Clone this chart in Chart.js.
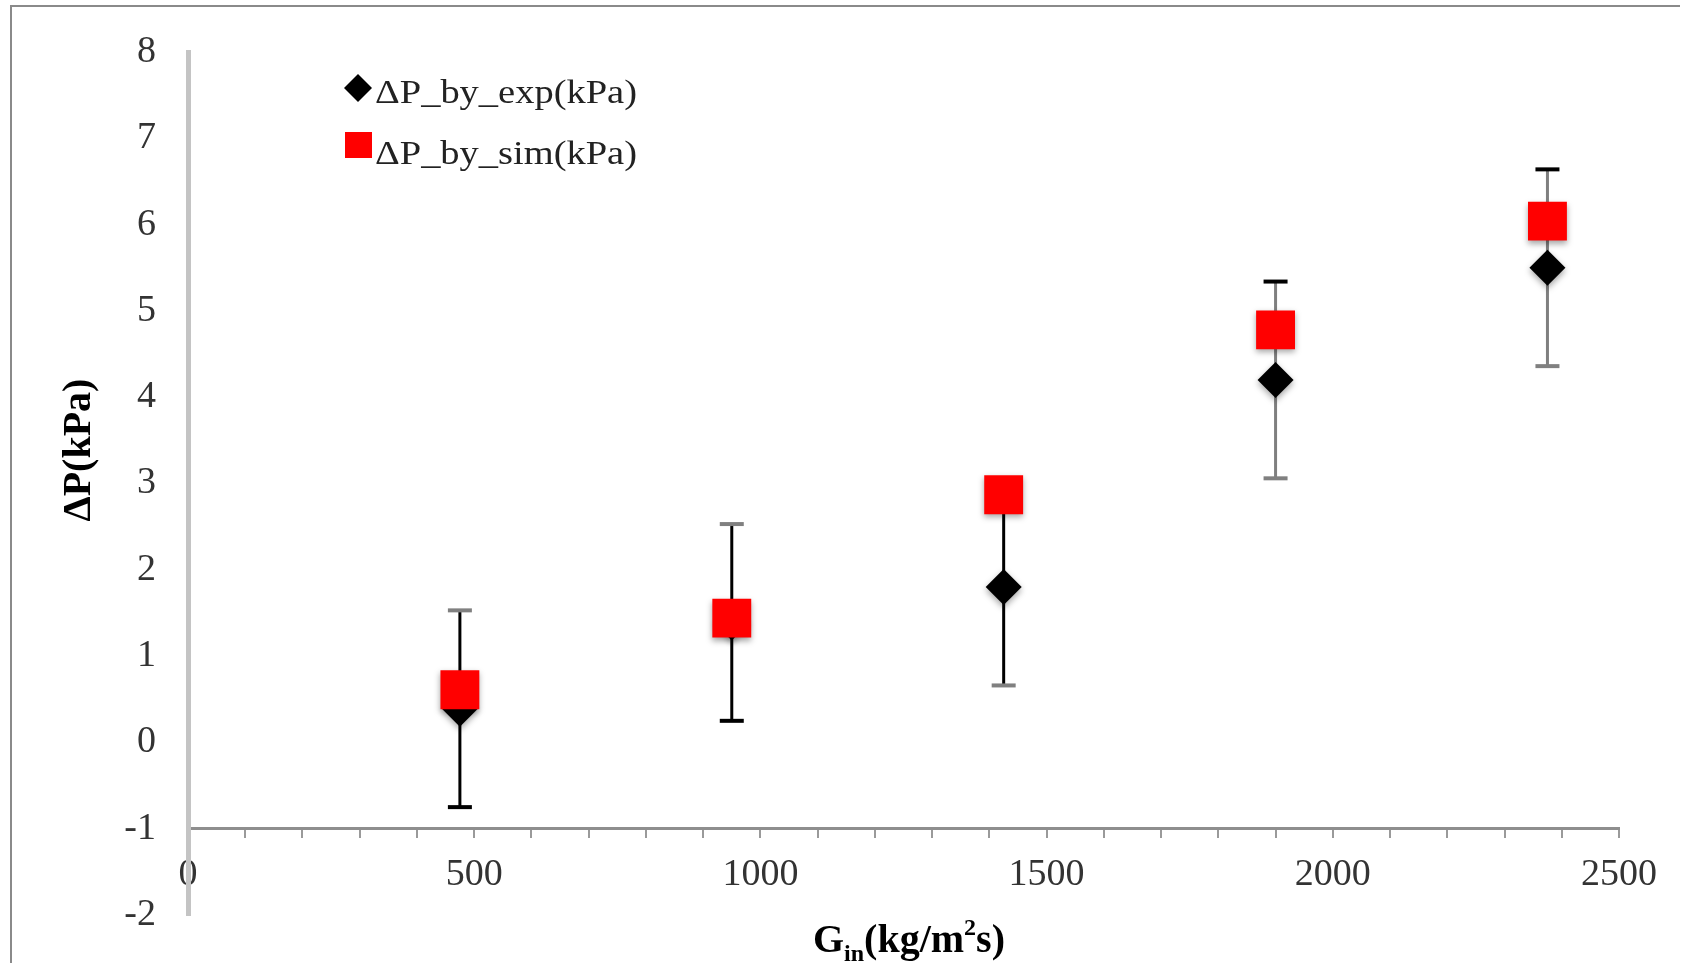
<!DOCTYPE html>
<html>
<head>
<meta charset="utf-8">
<script src="https://cdn.jsdelivr.net/npm/chart.js@4.4.1/dist/chart.umd.min.js"></script>
<style>
  html, body { margin: 0; padding: 0; background: #ffffff; }
  #wrap { position: relative; width: 1681px; height: 963px; overflow: hidden; }
  #frame { position: absolute; left: 10px; top: 5px; width: 1668px; height: 970px;
           border-top: 2px solid #8a8a8a; border-left: 2px solid #8a8a8a; pointer-events: none; }
  canvas { position: absolute; left: 0; top: 0; }
</style>
</head>
<body>
<div id="wrap">
  <canvas id="c" width="1681" height="963"></canvas>
  <div id="frame"></div>
</div>
<script>
// ---- data ----
const massFlux = [475, 950, 1425, 1900, 2375];          // G_in (kg/m2s)
const dpExp    = [0.39, 1.39, 1.80, 4.20, 5.50];        // ΔP_by_exp (kPa)
const dpSim    = [0.61, 1.44, 2.87, 4.78, 6.04];        // ΔP_by_sim (kPa)
const dpExpErr = [1.14, 1.14, 1.14, 1.14, 1.14];        // error bar half-length (kPa)
const xTickValues = [0, 500, 1000, 1500, 2000, 2500];
const yTickValues = [-2, -1, 0, 1, 2, 3, 4, 5, 6, 7, 8];
const seriesNames = ['ΔP_by_exp(kPa)', 'ΔP_by_sim(kPa)'];

// ---- styles ----
const SERIF = "'Liberation Serif', 'Times New Roman', serif";
const stemColors   = ['#000000', '#000000', '#000000', '#7f7f7f', '#7f7f7f'];
const topCapColors = ['#808080', '#808080', '#000000', '#000000', '#000000'];
const botCapColors = ['#000000', '#000000', '#808080', '#808080', '#808080'];

const errorBarPlugin = {
  id: 'errorBars',
  beforeDatasetsDraw(chart) {
    const {ctx, scales: {x, y}} = chart;
    ctx.save();
    for (let i = 0; i < massFlux.length; i++) {
      const px = x.getPixelForValue(massFlux[i]);
      const yTop = y.getPixelForValue(dpExp[i] + dpExpErr[i]);
      const yBot = y.getPixelForValue(dpExp[i] - dpExpErr[i]);
      ctx.strokeStyle = stemColors[i];
      ctx.lineWidth = 3;
      ctx.beginPath(); ctx.moveTo(px, yTop); ctx.lineTo(px, yBot); ctx.stroke();
      ctx.lineWidth = 4;
      ctx.strokeStyle = topCapColors[i];
      ctx.beginPath(); ctx.moveTo(px - 12, yTop); ctx.lineTo(px + 12, yTop); ctx.stroke();
      ctx.strokeStyle = botCapColors[i];
      ctx.beginPath(); ctx.moveTo(px - 12, yBot); ctx.lineTo(px + 12, yBot); ctx.stroke();
    }
    ctx.restore();
  }
};

const shadowPlugin = {
  id: 'markerShadow',
  beforeDatasetDraw(chart) {
    const ctx = chart.ctx;
    ctx.save();
    ctx.shadowColor = 'rgba(0,0,0,0.35)';
    ctx.shadowBlur = 6;
    ctx.shadowOffsetX = 0;
    ctx.shadowOffsetY = 3;
  },
  afterDatasetDraw(chart) {
    chart.ctx.restore();
  }
};

const decorPlugin = {
  id: 'decor',
  afterDraw(chart) {
    const ctx = chart.ctx;
    ctx.save();
    // legend
    ctx.fillStyle = '#000000';
    ctx.beginPath();
    ctx.moveTo(358, 74); ctx.lineTo(372, 88); ctx.lineTo(358, 102); ctx.lineTo(344, 88);
    ctx.closePath(); ctx.fill();
    ctx.fillStyle = '#ff0000';
    ctx.fillRect(345, 132, 27, 26);
    ctx.fillStyle = '#222222';
    ctx.font = '34px ' + SERIF;
    ctx.textAlign = 'left';
    ctx.textBaseline = 'alphabetic';
    const legendTexts = [[seriesNames[0], 103], [seriesNames[1], 164]];
    legendTexts.forEach(([t, by]) => {
      const w = ctx.measureText(t).width;
      ctx.save();
      ctx.translate(375, by);
      ctx.scale(262 / w, 1);
      ctx.fillText(t, 0, 0);
      ctx.restore();
    });

    // y title
    ctx.fillStyle = '#000000';
    ctx.save();
    ctx.translate(80, 450);
    ctx.rotate(-Math.PI / 2);
    ctx.font = 'bold 40px ' + SERIF;
    ctx.textAlign = 'center';
    ctx.textBaseline = 'middle';
    ctx.fillText('ΔP(kPa)', 0, 0);
    ctx.restore();

    // x title with subscript and superscript
    const parts = [
      {t: 'G', s: 40, dy: 0},
      {t: 'in', s: 24, dy: 9},
      {t: '(kg/m', s: 40, dy: 0},
      {t: '2', s: 24, dy: -17},
      {t: 's)', s: 40, dy: 0}
    ];
    let total = 0;
    parts.forEach(p => { ctx.font = 'bold ' + p.s + 'px ' + SERIF; p.w = ctx.measureText(p.t).width; total += p.w; });
    let cx = 909 - total / 2;
    ctx.textAlign = 'left';
    ctx.textBaseline = 'alphabetic';
    parts.forEach(p => {
      ctx.font = 'bold ' + p.s + 'px ' + SERIF;
      ctx.fillText(p.t, cx, 952 + p.dy);
      cx += p.w;
    });
    ctx.restore();
  }
};

new Chart(document.getElementById('c'), {
  type: 'scatter',
  data: {
    datasets: [
      {
        label: seriesNames[0],
        data: massFlux.map((g, i) => ({x: g, y: dpExp[i]})),
        pointStyle: 'rectRot',
        pointRadius: 18,
        backgroundColor: '#000000',
        borderWidth: 0,
        order: 1,
        clip: false
      },
      {
        label: seriesNames[1],
        data: massFlux.map((g, i) => ({x: g, y: dpSim[i]})),
        pointStyle: 'rect',
        pointRadius: 27.5,
        backgroundColor: '#ff0000',
        borderWidth: 0,
        order: 0,
        clip: false
      }
    ]
  },
  options: {
    responsive: false,
    animation: false,
    events: [],
    devicePixelRatio: 1,
    layout: { padding: { left: 0, top: 52, right: 62, bottom: 48 } },
    plugins: { legend: { display: false }, tooltip: { enabled: false } },
    scales: {
      x: {
        type: 'linear',
        min: 0, max: 2500,
        position: { y: -1 },
        afterFit: s => { s.height = 42; s.paddingTop = 0; s.paddingBottom = 0; },
        border: { display: true, color: '#8e8e8e', width: 3 },
        grid: { display: true, drawOnChartArea: false, drawTicks: true, tickLength: 8, color: '#9a9a9a', lineWidth: 2 },
        ticks: {
          stepSize: 100,
          maxTicksLimit: 100,
          autoSkip: false,
          maxRotation: 0,
          padding: 16,
          color: '#333333',
          font: { family: SERIF, size: 38 },
          callback: v => xTickValues.includes(v) ? String(v) : ''
        }
      },
      y: {
        type: 'linear',
        min: -2, max: 8,
        position: 'left',
        afterFit: s => { s.width = 188; s.paddingTop = 0; s.paddingBottom = 0; },
        border: { display: true, color: '#c4c4c4', width: 5 },
        grid: { display: false, drawTicks: false },
        ticks: {
          stepSize: 1,
          padding: 32,
          color: '#333333',
          font: { family: SERIF, size: 38 },
          callback: v => yTickValues.includes(v) ? String(v) : ''
        }
      }
    }
  },
  plugins: [errorBarPlugin, shadowPlugin, decorPlugin]
});
</script>
</body>
</html>
